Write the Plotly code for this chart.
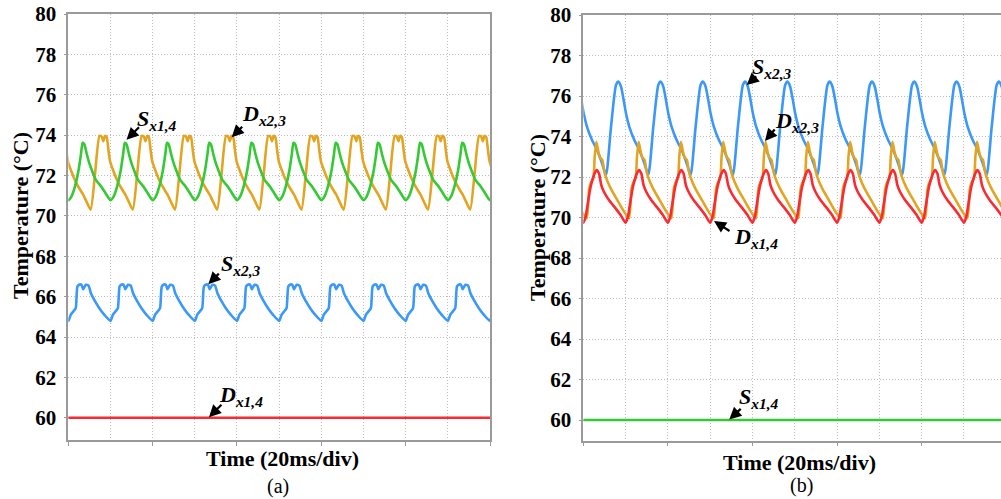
import plotly.graph_objects as go

# ---------------- data ----------------
DIV_MS = 20                      # one grid division = 20 ms (one period of each waveform)
X_END_A = 200                    # panel (a) spans 10 divisions
X_END_B = 197.5                  # panel (b) is cut by the image edge
Y_TICKS = [60, 62, 64, 66, 68, 70, 72, 74, 76, 78, 80]

# --- panel (a): one 20 ms cycle of each waveform (phase in period fractions, temperature in degC)
a_sx14_phase = [0.00, 0.08, 0.16, 0.24, 0.30, 0.34, 0.38, 0.44, 0.50, 0.57, 0.65, 0.80, 0.92, 1.00]
a_sx14_temp  = [70.78, 70.98, 71.47, 72.22, 73.05, 73.62, 73.55, 73.05, 72.60, 72.20, 71.80, 71.40, 71.00, 70.78]
a_sx14_shift = 0.00

a_dx23_phase = [0.00, 0.10, 0.21, 0.26, 0.30, 0.34, 0.38, 0.42, 0.46, 0.54, 0.62, 0.70, 0.82, 0.90, 1.00]
a_dx23_temp  = [70.31, 72.00, 73.96, 73.93, 73.70, 73.96, 73.90, 73.29, 72.71, 72.22, 71.80, 71.47, 71.06, 70.72, 70.31]
a_dx23_shift = 0.53

a_sx23_phase = [0.00, 0.056, 0.136, 0.176, 0.216, 0.256, 0.312, 0.352, 0.416, 0.48, 0.536, 0.616, 0.736, 0.856, 1.00]
a_sx23_temp  = [64.80, 65.10, 65.31, 65.43, 66.50, 66.59, 66.59, 66.37, 66.59, 66.55, 66.17, 65.84, 65.43, 65.10, 64.80]
a_sx23_shift = 0.00

a_dx14_time = [0, 200]
a_dx14_temp = [60.0, 60.0]

# --- panel (b)
b_sx23_phase = [0.00, 0.118, 0.236, 0.291, 0.354, 0.417, 0.472, 0.551, 0.669, 0.787, 0.906, 1.00]
b_sx23_temp  = [72.10, 74.48, 76.54, 76.71, 76.46, 75.80, 75.15, 74.48, 73.83, 73.33, 72.68, 72.10]
b_sx23_shift = 0.537

b_dx23_phase = [0.00, 0.055, 0.094, 0.157, 0.189, 0.228, 0.268, 0.307, 0.370, 0.409, 0.449, 0.567, 0.724, 0.882, 1.00]
b_dx23_temp  = [69.96, 71.36, 71.69, 71.93, 73.00, 73.74, 73.33, 73.00, 72.84, 72.35, 72.02, 71.44, 70.86, 70.29, 69.96]
b_dx23_shift = 0.08

b_dx14_phase = [0.00, 0.055, 0.094, 0.173, 0.252, 0.315, 0.370, 0.425, 0.488, 0.606, 0.764, 0.882, 1.00]
b_dx14_temp  = [69.74, 70.04, 70.53, 71.52, 72.10, 72.35, 72.18, 71.60, 71.27, 70.86, 70.45, 70.12, 69.74]
b_dx14_shift = 0.00

b_sx14_time = [0, 200]
b_sx14_temp = [60.0, 60.0]

# ---------------- styling ----------------
GREEN = "#36c936"
ORANGE = "#e3a521"
BLUE = "#3a98fb"
RED = "#fb2a32"
SERIF = "Liberation Serif"
LW = 2.6


def steady_state(phase, temp, shift, x_end):
    """Repeat the read cycle every division (the waveforms are periodic)."""
    t, v = [], []
    for k in range(-2, 12):
        for p, y in zip(phase, temp):
            x = (k + p + shift) * DIV_MS
            if t and abs(x - t[-1]) < 1e-9:
                continue
            t.append(x)
            v.append(y)
    return t, v


fig = go.Figure()


def add_line(t, v, color, xa, ya):
    fig.add_trace(go.Scatter(x=t, y=v, mode="lines",
                             line=dict(color=color, width=LW, shape="spline", smoothing=0.6),
                             xaxis=xa, yaxis=ya, showlegend=False, hoverinfo="skip"))


# panel (a)
add_line(*steady_state(a_dx23_phase, a_dx23_temp, a_dx23_shift, X_END_A), ORANGE, "x", "y")
add_line(*steady_state(a_sx14_phase, a_sx14_temp, a_sx14_shift, X_END_A), GREEN, "x", "y")
add_line(*steady_state(a_sx23_phase, a_sx23_temp, a_sx23_shift, X_END_A), BLUE, "x", "y")
add_line(a_dx14_time, a_dx14_temp, RED, "x", "y")

# panel (b)
add_line(*steady_state(b_sx23_phase, b_sx23_temp, b_sx23_shift, X_END_B), BLUE, "x2", "y2")
add_line(*steady_state(b_dx23_phase, b_dx23_temp, b_dx23_shift, X_END_B), ORANGE, "x2", "y2")
add_line(*steady_state(b_dx14_phase, b_dx14_temp, b_dx14_shift, X_END_B), RED, "x2", "y2")
add_line(b_sx14_time, b_sx14_temp, GREEN, "x2", "y2")

AXIS_COLOR = "#9a9a9a"
GRID_COLOR = "#bdbdbd"
GRID_DASH = "1px,2px"


def xaxis_style(domain, rng, anchor):
    return dict(domain=domain, range=rng, anchor=anchor, automargin=False,
                showline=True, linecolor=AXIS_COLOR, linewidth=1.5, mirror=True,
                showgrid=True, gridcolor=GRID_COLOR, griddash=GRID_DASH, gridwidth=1,
                tickmode="linear", tick0=0, dtick=2 * DIV_MS,
                ticks="outside", ticklen=4, tickcolor=AXIS_COLOR, tickwidth=1.2,
                showticklabels=False, zeroline=False,
                minor=dict(tickmode="linear", tick0=0, dtick=DIV_MS, showgrid=True,
                           gridcolor=GRID_COLOR, griddash=GRID_DASH, gridwidth=1, ticks=""))


def yaxis_style(domain, rng, anchor):
    return dict(domain=domain, range=rng, anchor=anchor, automargin=False,
                showline=True, linecolor=AXIS_COLOR, linewidth=1.5, mirror=True,
                showgrid=True, gridcolor=GRID_COLOR, griddash=GRID_DASH, gridwidth=1,
                tickvals=Y_TICKS, ticktext=[str(v) for v in Y_TICKS],
                ticks="outside", ticklen=3, tickcolor=AXIS_COLOR, ticklabelstandoff=3,
                tickfont=dict(family=SERIF, size=21, color="black", weight="bold"),
                zeroline=False)


fig.update_layout(
    width=1001, height=499,
    margin=dict(l=0, r=0, t=0, b=0, autoexpand=False),
    paper_bgcolor="white", plot_bgcolor="white",
    xaxis=xaxis_style([68.3 / 1001, 490 / 1001], [0, X_END_A], "y"),
    yaxis=yaxis_style([(499 - 440) / 499, (499 - 14) / 499], [58.9, 80], "x"),
    xaxis2=xaxis_style([583.3 / 1001, 1.0], [0, X_END_B], "y2"),
    yaxis2=yaxis_style([(499 - 440.7) / 499, (499 - 15) / 499], [58.98, 80], "x2"),
)


def px2paper(xp, yp):
    return xp / 1001, (499 - yp) / 499


def paper_text(text, xp, yp, size=21, angle=0, bold=True):
    x, y = px2paper(xp, yp)
    fig.add_annotation(text=text, x=x, y=y, xref="paper", yref="paper", showarrow=False,
                       xanchor="center", yanchor="middle", textangle=angle,
                       font=dict(family=SERIF, size=size, color="black",
                                 weight="bold" if bold else "normal"))


paper_text("Temperature (°C)", 20, 216, size=22, angle=-90)
paper_text("Temperature (°C)", 537, 218, size=22, angle=-90)
paper_text("Time (20ms/div)", 282, 458, size=22)
paper_text("Time (20ms/div)", 799, 462, size=22)
paper_text("(a)", 278, 486, size=20, bold=False)
paper_text("(b)", 801, 485, size=20, bold=False)


def tag(name, sub, xref, yref, head_x, head_y, ax, ay, text_x, text_y):
    # arrow
    fig.add_annotation(x=head_x, y=head_y, xref=xref, yref=yref, text="", showarrow=True,
                       ax=ax, ay=ay, axref="pixel", ayref="pixel",
                       arrowhead=2, arrowsize=1.1, arrowwidth=2.2, arrowcolor="black")
    # label
    fig.add_annotation(x=text_x, y=text_y, xref=xref, yref=yref, showarrow=False,
                       xanchor="left", yanchor="middle",
                       text=f"<b><i>{name}<sub>{sub}</sub></i></b>",
                       font=dict(family=SERIF, size=22, color="black"))


# panel (a) tags
tag("S", "x1,4", "x", "y", 27.6, 73.77, 14, -14, 31.6, 74.75)
tag("D", "x2,3", "x", "y", 77.5, 73.90, 12, -12, 81.4, 75.0)
tag("S", "x2,3", "x", "y", 66.4, 66.62, 12, -12, 71.5, 67.55)
tag("D", "x1,4", "x", "y", 66.7, 60.03, 14, -14, 70.5, 61.1)

# panel (b) tags
tag("S", "x2,3", "x2", "y2", 77.3, 76.54, 11, -10, 79.0, 77.4)
tag("D", "x2,3", "x2", "y2", 85.9, 73.78, 11, -13, 89.7, 74.7)
tag("D", "x1,4", "x2", "y2", 61.8, 69.83, 17, 11, 70.3, 69.0)
tag("S", "x1,4", "x2", "y2", 69.0, 60.03, 13, -12, 72.6, 61.1)

fig.write_html("out.html", config={"displayModeBar": False},
               post_script="document.body.style.margin='0';")
